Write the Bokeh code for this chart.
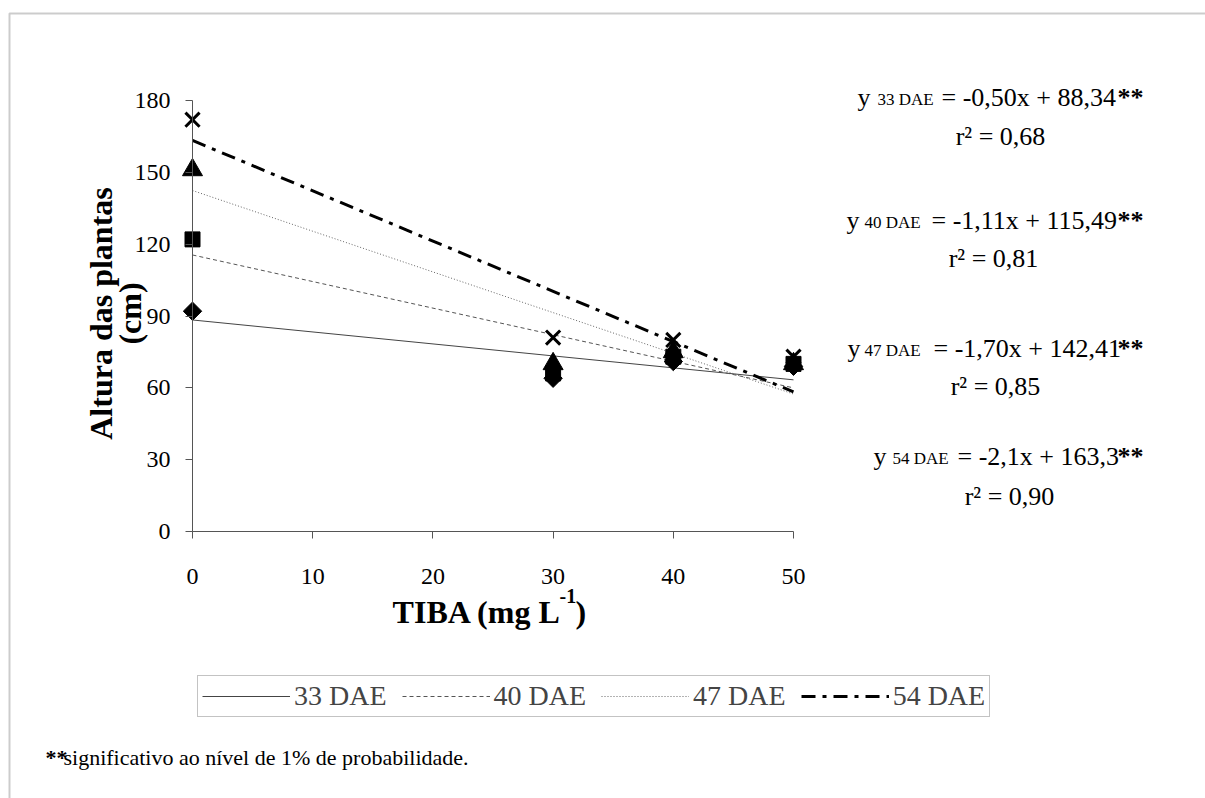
import numpy as np
from bokeh.plotting import figure
from bokeh.models import Label, FixedTicker, Range1d, PolyAnnotation
from bokeh.embed import file_html
from bokeh.resources import INLINE

# ---------------- data ----------------
tiba = [0, 30, 40, 50]
dae_labels = ["33 DAE", "40 DAE", "47 DAE", "54 DAE"]
altura_33 = [92, 64, 71, 69]
altura_40 = [122, 66, 73, 70]
altura_47 = [151, 70, 75, 70]
altura_54 = [172, 81, 80, 73]
slopes = [-0.50, -1.11, -1.70, -2.1]
intercepts = [88.34, 115.49, 142.41, 163.3]
eq_slope_txt = ["-0,50", "-1,11", "-1,70", "-2,1"]
eq_int_txt = ["88,34", "115,49", "142,41", "163,3"]
r2_txt = ["0,68", "0,81", "0,85", "0,90"]
x_ticks = [0, 10, 20, 30, 40, 50]
y_ticks = [0, 30, 60, 90, 120, 150, 180]
footnote = "significativo ao nível de 1% de probabilidade."

# ---------------- layout ----------------
W, H = 1205, 798
FX0, FX50 = 192, 793      # px of x=0 and x=50
FY0, FY180 = 531, 100     # px of y=0 and y=180
XS = (FX50 - FX0) / 50.0
YS = (FY0 - FY180) / 180.0

FONT = "'Liberation Serif', 'Times New Roman', 'DejaVu Serif', serif"

p = figure(width=W, height=H,
           x_range=Range1d(-FX0 / XS, 50 + (W - FX50) / XS),
           y_range=Range1d(-(H - FY0) / YS, 180 + FY180 / YS),
           output_backend="svg", toolbar_location=None,
           min_border_left=0, min_border_right=0,
           min_border_top=0, min_border_bottom=0)
p.outline_line_color = None
p.grid.visible = False
p.background_fill_color = "white"
p.border_fill_color = "white"

for ax in (p.xaxis[0], p.yaxis[0]):
    ax.axis_line_color = "#555555"
    ax.axis_line_width = 1
    ax.major_tick_line_color = "#555555"
    ax.major_tick_out = 7
    ax.major_tick_in = 0
    ax.minor_tick_line_color = None
    ax.major_label_text_font = FONT
    ax.major_label_text_font_size = "24px"
    ax.major_label_text_color = "black"
    ax.fixed_location = 0

p.xaxis.ticker = FixedTicker(ticks=x_ticks)
p.xaxis.bounds = (0, 50)
p.xaxis.major_label_standoff = 30
p.yaxis.ticker = FixedTicker(ticks=y_ticks)
p.yaxis.bounds = (0, 180)
p.yaxis.major_label_standoff = 15


def px2x(px):
    return (px - FX0) / XS


def py2y(py):
    return (FY0 - py) / YS


def lab(px, py, text, size, bold=False, align="left", baseline="middle", angle=0.0):
    p.add_layout(Label(x=px2x(px), y=py2y(py), x_units="data", y_units="data",
                       text=text, text_font=FONT, text_font_size=f"{size}px",
                       text_font_style="bold" if bold else "normal",
                       text_align=align, text_baseline=baseline, angle=angle,
                       text_color="black"))


# ---------------- outer frame ----------------
p.add_layout(PolyAnnotation(xs=[px2x(9), px2x(1400), px2x(1400), px2x(9)],
                            ys=[py2y(13), py2y(13), py2y(1000), py2y(1000)],
                            xs_units="data", ys_units="data",
                            fill_alpha=0, line_color="#555555", line_width=2))

# ---------------- regression lines ----------------
line_styles = [
    dict(line_color="#444444", line_width=1, line_dash="solid"),
    dict(line_color="#555555", line_width=1, line_dash="4 3"),
    dict(line_color="#666666", line_width=1, line_dash="1 2"),
    dict(line_color="black", line_width=3, line_dash="14 7 4 7"),
]
xline = np.array([0, 50])
for i in range(4):
    p.line(xline, intercepts[i] + slopes[i] * xline, legend_label=dae_labels[i], **line_styles[i])

# ---------------- points ----------------
p.scatter(tiba, altura_33, marker="square", angle=np.pi / 4, size=13, color="black")
p.scatter(tiba, altura_40, marker="square", size=15, color="black")
p.scatter(tiba, altura_47, marker="triangle", size=20, color="black")
p.scatter(tiba, altura_54, marker="x", size=20, line_width=3, color="black")

# ---------------- legend ----------------
lg = p.legend[0]
lg.orientation = "horizontal"
lg.location = (197, H - 717)
lg.border_line_color = "#888888"
lg.border_line_width = 1
lg.background_fill_alpha = 1
lg.label_text_font = FONT
lg.label_text_font_size = "28px"
lg.glyph_width = 88
lg.glyph_height = 20
lg.label_standoff = 4
lg.spacing = 15
lg.padding = 4
lg.margin = 0
lg.label_height = 30

# ---------------- axis titles ----------------
lab(100, 313, "Altura das plantas", 32, bold=True, align="center", angle=np.pi / 2)
lab(129, 313, "(cm)", 32, bold=True, align="center", angle=np.pi / 2)
lab(561, 611, "TIBA (mg L", 32, bold=True, align="right", baseline="alphabetic")
lab(559, 595, "-1", 20, bold=True, align="left", baseline="alphabetic")
lab(575, 611, ")", 32, bold=True, align="left", baseline="alphabetic")

# ---------------- equations ----------------
eq_y = [89, 212, 340, 448]
r2_y = [128, 250, 378, 488]
y_start = [857, 846, 847, 873]
sub_start = [877, 864, 864, 892]
eq_start = [941, 931, 933, 957]
r2_cx = [1000, 993, 995, 1009]
for i in range(4):
    base = eq_y[i] + 8
    lab(y_start[i], base, "y", 26, baseline="alphabetic")
    lab(sub_start[i], base + 2, dae_labels[i], 17, baseline="alphabetic")
    lab(eq_start[i], base, f"= {eq_slope_txt[i]}x + {eq_int_txt[i]}", 26, baseline="alphabetic")
    lab(1143, base, "**", 26, bold=True, align="right", baseline="alphabetic")
    lab(r2_cx[i], r2_y[i] + 8, f"r\u00b2 = {r2_txt[i]}", 26, align="center", baseline="alphabetic")

# ---------------- footnote ----------------
lab(45, 757, "**", 22, bold=True)
lab(63, 757, footnote, 22)

open("out.html", "w").write(file_html(p, INLINE))
